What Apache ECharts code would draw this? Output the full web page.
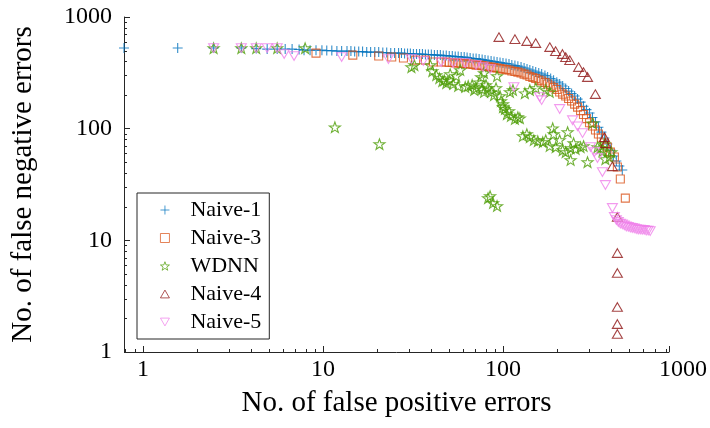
<!DOCTYPE html>
<html>
<head>
<meta charset="utf-8">
<script src="https://cdn.jsdelivr.net/npm/echarts@6/dist/echarts.min.js"></script>
<style>
  html, body { margin: 0; padding: 0; background: #fff; }
  #chart { width: 710px; height: 428px; }
</style>
</head>
<body>
<div id="chart"></div>
<script>
// Error trade-off: false positives (x) vs false negatives (y), log-log.
const seriesNames = ['Naive-1', 'Naive-3', 'WDNN', 'Naive-4', 'Naive-5'];

const naive1 = [[0.785,527],[1.56,527],[2.47,527],[3.52,527],[4.26,521],[4.90,516],[5.57,516],[6.17,516],[6.74,516],[7.37,511],[7.85,505],[8.48,505],[9.15,505],[9.87,505],[10.5,500],[11.2,500],[11.95,495],[12.7,495],[13.6,495],[14.3,495],[15.0,490],[15.8,490],[16.6,490],[17.5,485],[18.4,485],[19.4,485],[20.4,485],[21.5,480],[22.6,480],[23.8,475],[25.0,475],[26.3,475],[27.3,475],[28.4,470],[29.5,470],[30.6,470],[31.8,466],[33.1,466],[34.4,466],[35.7,466],[37.1,461],[38.5,461],[40.0,461],[41.6,456],[43.2,456],[44.9,456],[46.6,451],[48.4,451],[50.3,447],[52.3,447],[54.3,442],[56.4,442],[58.6,438],[60.9,438],[63.2,433],[65.7,429],[68.3,424],[70.9,424],[73.7,420],[76.6,416],[79.5,411],[82.6,407],[85.9,403],[89.2,399],[92.7,395],[96.3,391],[100,387],[104,383],[108,379],[112,371],[116.5,367],[121,363],[126,356],[131,349],[136,342],[141,335],[146.5,328],[152,321],[158,315],[164,308],[171,299],[177,290],[184,281],[191,272],[199,261],[206.5,251],[214.5,241],[223,229],[231.5,217],[240.5,206],[250,196],[259.6,184],[269.8,173],[280,159],[291,148],[302.5,138],[314,126],[326.5,115],[339,103],[352,93.2],[366,82.4],[380,72.8],[395,64.3],[410.5,56.9],[426.4,51.3],[443,46.3],[460,42.6]];

const naive3 = [[9.15,475],[14.65,456],[20.4,447],[24.1,438],[28.0,429],[32.7,411],[37.1,411],[41.0,395],[45.4,395],[48.4,395],[50.3,391],[52.3,391],[54.3,387],[56.4,387],[58.6,383],[60.9,383],[63.2,379],[65.7,379],[68.3,375],[70.9,371],[73.7,371],[76.6,367],[79.5,363],[82.6,360],[85.9,356],[89.2,352],[92.7,349],[96.3,345],[100,342],[104,338],[108,335],[112,328],[116.5,325],[121,321],[126,315],[131,308],[136,302],[141,293],[146.5,287],[152,281],[158,272],[164,267],[171,259],[177,251],[184,241],[191,233],[199,224],[206.5,213],[214.5,204],[223,196],[231.5,186],[240.5,177],[250,166],[259.6,156],[269.8,145],[280,134],[291,123],[302.5,113],[314,105.5],[326.5,97.2],[339,89.5],[352,82.4],[366,74.3],[380,68.4],[395,61.7],[415.8,55.7],[431.9,45.3],[448.6,35.4],[478.2,23.9]];

const wdnn = [[2.47,527],[3.52,527],[4.26,527],[5.57,527],[7.96,527],[11.65,103],[20.6,72.8],[31.0,356],[32.2,371],[39.5,371],[40.5,328],[42.6,302],[44.3,284],[46.0,267],[47.2,272],[48.4,256],[50.3,272],[50.9,308],[52.9,251],[55.0,296],[56.4,241],[57.9,335],[61.7,236],[64.1,241],[67.4,246],[69.2,222],[70.9,231],[73.7,261],[75.6,290],[76.6,226],[78.5,315],[78.5,213],[80.5,246],[82.6,231],[85.9,213],[89.2,200],[91.5,231],[92.7,296],[96.3,196],[97.5,177],[100,156],[100,166],[102.6,150],[105.2,135],[108,144],[110.7,130],[116.5,122],[121,127],[124.1,124],[109.3,213],[113.6,222],[132.3,208],[141,222],[152.2,231],[172.8,222],[181.8,213],[82.6,23.9],[84.8,24.9],[88.1,21.6],[92.7,20.3],[129,85.9],[135.7,89.5],[141,84.1],[148.4,79.1],[156.1,77.4],[166.3,75.9],[172.8,79.1],[181.8,69.9],[188.9,101],[191.3,89.5],[196.2,68.4],[206.5,79.1],[214.5,64.3],[222.9,61.7],[228.6,93.2],[237.5,67.0],[237.5,52.4],[246.8,74.3],[253.1,65.7],[269.8,68.4],[280.3,69.9],[294.9,50.2],[314.3,112],[334.9,68.4],[347.9,67.0],[356.8,63.0],[366,72.8],[370.7,53.4],[390.1,55.7],[400.2,61.7]];

const naive4 = [[95.0,661],[116.5,634],[135.7,609],[152,584],[182,538],[196,495],[214,466],[223,437],[235,411],[263,356],[280,321],[295,290],[326,204],[366,84],[371,74],[405,46],[432,16.2],[432,7.7],[432,5.1],[432,2.53],[432,1.78],[432,1.45]];

const naive5 = [[2.47,527],[3.52,527],[4.26,527],[4.90,527],[5.57,527],[6.09,466],[6.91,447],[12.7,438],[23.1,420],[31.0,420],[36.1,403],[45.4,395],[52.9,387],[61.7,387],[70.9,371],[77.5,356],[84.8,342],[115,236],[160,192],[164,180],[206.5,150],[243.6,119],[259.6,105],[276.7,91.3],[306.4,68.4],[322.3,61.7],[334.9,54.6],[356.8,40.9],[370.7,31.3],[405.3,19.5],[415.8,16.2],[426.4,15.2],[437.4,14.6],[448.6,14.1],[460.3,13.9],[472.1,13.6],[484.3,13.3],[496.8,13.2],[509.6,13.0],[522.6,12.9],[536.1,12.8],[549.9,12.6],[564.1,12.5],[578.6,12.5],[593.5,12.4],[608.8,12.4],[624.5,12.2],[640.6,12.2],[657.1,12.1]];

// Axis limits, where the drawn x axis line stops, and tick values
const xRange = [0.785, 1000];
const yRange = [1, 1000];
const xLineEnd = 840;
const xMajorTicks = [1, 10, 100, xLineEnd];
const xMinorTicks = [0.8,0.9,2,3,4,5,6,7,8,9,20,30,40,50,60,70,80,90,200,300,400,500,600,700,800];
const yMinorTicks = [2,3,4,5,6,7,8,9,20,30,40,50,60,70,80,90,200,300,400,500,600,700,800,900];

const FONT = "'Liberation Serif', 'Times New Roman', serif";
const AXIS_COLOR = '#262626';
const colors = {
  'Naive-1': '#0072BD',
  'Naive-3': '#D95319',
  'WDNN': '#4E9E06',
  'Naive-4': '#8E1414',
  'Naive-5': '#EF7FEA'
};

const PLUS = 'path://M5,0L5,10M0,5L10,5';
const STAR = 'path://M50,0L61.76,33.82L97.55,34.55L69.02,56.18L79.39,90.45L50,70L20.61,90.45L30.98,56.18L2.45,34.55L38.24,33.82Z';
const TRI_UP = 'path://M5,0L10,8.66L0,8.66Z';
const TRI_DOWN = 'path://M0,0L10,0L5,8.66Z';

function hollow(name, data, symbol, size) {
  return {
    name: name,
    type: 'scatter',
    data: data,
    symbol: symbol,
    symbolSize: size,
    symbolKeepAspect: true,
    itemStyle: { color: 'rgba(0,0,0,0)', borderColor: colors[name], borderWidth: 1.1 },
    emphasis: { disabled: true }
  };
}

function powerLabel(v) {
  const e = Math.log10(v);
  return Math.abs(e - Math.round(e)) < 1e-6 ? String(Math.round(v)) : '';
}

function tickSeries(values, render) {
  return { type: 'custom', silent: true, z: 3, data: values, renderItem: render };
}

const chart = echarts.init(document.getElementById('chart'), null, { renderer: 'canvas' });

chart.setOption({
  animation: false,
  backgroundColor: '#fff',
  grid: { left: 124, top: 17, right: 24, bottom: 76, containLabel: false },
  xAxis: {
    type: 'log',
    logBase: 10,
    min: xRange[0],
    max: xRange[1],
    name: 'No. of false positive errors',
    nameLocation: 'middle',
    nameGap: 37,
    nameTextStyle: { fontFamily: FONT, fontSize: 29, color: '#000', padding: [0, 14, 0, 0] },
    axisLine: { show: false },
    axisTick: { show: false },
    axisLabel: { showMinLabel: false, margin: 6, fontFamily: FONT, fontSize: 24, color: '#000', formatter: powerLabel },
    splitLine: { show: false }
  },
  yAxis: {
    type: 'log',
    logBase: 10,
    min: yRange[0],
    max: yRange[1],
    name: 'No. of false negative errors',
    nameLocation: 'middle',
    nameGap: 86,
    nameTextStyle: { fontFamily: FONT, fontSize: 29, color: '#000' },
    axisLine: { lineStyle: { color: AXIS_COLOR, width: 1 } },
    axisTick: { inside: true, length: 6, lineStyle: { color: AXIS_COLOR } },
    axisLabel: { margin: 12, fontFamily: FONT, fontSize: 24, color: '#000', formatter: powerLabel },
    splitLine: { show: false }
  },
  legend: {
    orient: 'vertical',
    left: 137,
    top: 193,
    padding: [6, 8, 6, 23],
    itemGap: 6,
    itemWidth: 9,
    itemHeight: 9,
    itemStyle: { borderWidth: 0.9 },
    borderColor: AXIS_COLOR,
    borderWidth: 1,
    backgroundColor: '#fff',
    data: seriesNames,
    textStyle: { fontFamily: FONT, fontSize: 22, color: '#000', padding: [0, 0, 0, 16], lineHeight: 22 }
  },
  series: [
    hollow('Naive-1', naive1, PLUS, 10),
    hollow('Naive-3', naive3, 'rect', 8),
    hollow('WDNN', wdnn, STAR, 11),
    hollow('Naive-4', naive4, TRI_UP, 10),
    hollow('Naive-5', naive5, TRI_DOWN, 10),
    // x axis line
    tickSeries([[xRange[0], xLineEnd]], function (params, api) {
      const a = api.coord([api.value(0), yRange[0]]);
      const b = api.coord([api.value(1), yRange[0]]);
      const y = Math.round(a[1]) + 0.5;
      return { type: 'line', shape: { x1: a[0], y1: y, x2: b[0], y2: y }, style: { stroke: AXIS_COLOR, lineWidth: 1 } };
    }),
    // x major ticks
    tickSeries(xMajorTicks.map(v => [v, yRange[0]]), function (params, api) {
      const p = api.coord([api.value(0), api.value(1)]);
      const x = Math.round(p[0]) + 0.5;
      return { type: 'line', shape: { x1: x, y1: p[1], x2: x, y2: p[1] - 6 }, style: { stroke: AXIS_COLOR, lineWidth: 1 } };
    }),
    // x minor ticks
    tickSeries(xMinorTicks.map(v => [v, yRange[0]]), function (params, api) {
      const p = api.coord([api.value(0), api.value(1)]);
      const x = Math.round(p[0]) + 0.5;
      return { type: 'line', shape: { x1: x, y1: p[1], x2: x, y2: p[1] - 3 }, style: { stroke: AXIS_COLOR, lineWidth: 1 } };
    }),
    // y minor ticks
    tickSeries(yMinorTicks.map(v => [xRange[0], v]), function (params, api) {
      const p = api.coord([api.value(0), api.value(1)]);
      const y = Math.round(p[1]) + 0.5;
      return { type: 'line', shape: { x1: p[0], y1: y, x2: p[0] + 3, y2: y }, style: { stroke: AXIS_COLOR, lineWidth: 1 } };
    })
  ]
});
</script>
</body>
</html>
